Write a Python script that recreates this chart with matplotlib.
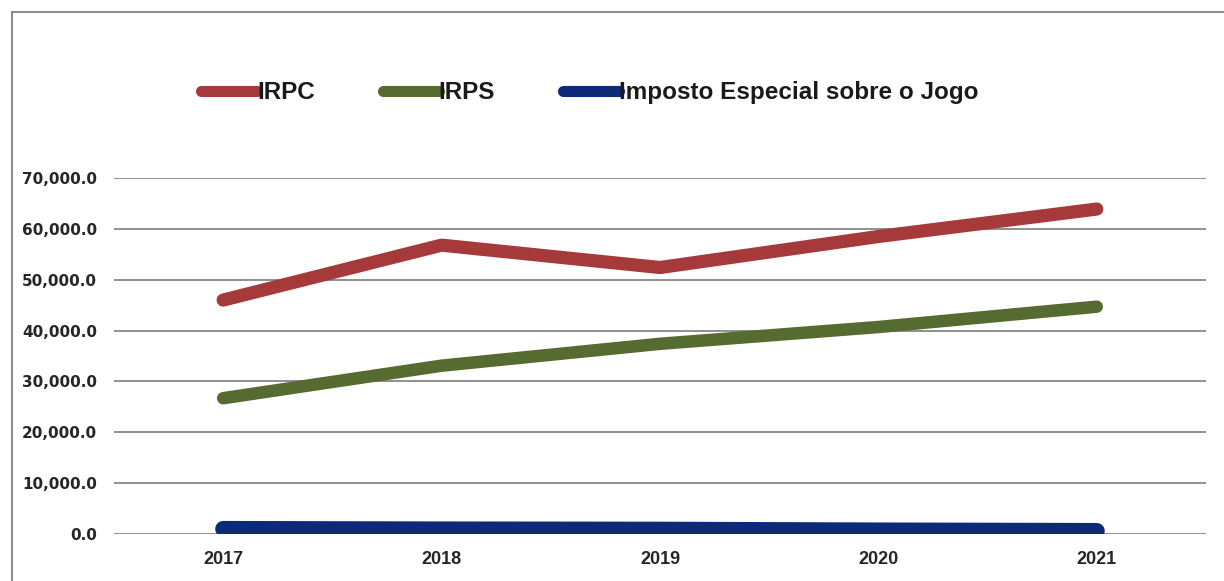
import matplotlib.pyplot as plt
from matplotlib.patches import Rectangle
from matplotlib.lines import Line2D
from matplotlib.ticker import FuncFormatter

years = ["2017", "2018", "2019", "2020", "2021"]
irpc = [46000, 56800, 52400, 58500, 63900]
irps = [26700, 33100, 37400, 40700, 44700]
jogo = [1000, 900, 850, 700, 600]

series_names = ["IRPC", "IRPS", "Imposto Especial sobre o Jogo"]
colors = ["#A63A3A", "#556B2F", "#0B2A78"]
label_font = ["Liberation Sans", "DejaVu Sans"]

fig = plt.figure(figsize=(12.24, 5.81), dpi=100)
ax = fig.add_axes([0.0931, 0.0809, 0.8922, 0.6127])

x = range(len(years))
ax.plot(x, irpc, color=colors[0], lw=9.5, solid_capstyle="round", solid_joinstyle="round", zorder=3)
ax.plot(x, irps, color=colors[1], lw=9, solid_capstyle="round", solid_joinstyle="round", zorder=3)
ax.plot(x, jogo, color=colors[2], lw=11.5, solid_capstyle="round", solid_joinstyle="round", zorder=3)

ax.set_xlim(-0.5, len(years) - 0.5)
ax.set_ylim(0, 70000)
ax.set_yticks(range(0, 70001, 10000))
ax.yaxis.set_major_formatter(FuncFormatter(lambda v, p: f"{v:,.1f}"))
ax.set_xticks(list(x))
ax.set_xticklabels(years)
ax.grid(axis="y", color="#8f8f8f", lw=1.4)
ax.set_axisbelow(True)
for s in ax.spines.values():
    s.set_visible(False)
ax.tick_params(length=0)
ax.tick_params(axis="y", pad=12)
ax.tick_params(axis="x", pad=12)
for t in ax.get_yticklabels():
    t.set_fontweight("bold")
    t.set_fontsize(11)
    t.set_color("#262626")
for t in ax.get_xticklabels():
    t.set_fontweight("bold")
    t.set_fontsize(13)
    t.set_family(label_font)
    t.set_color("#262626")

handles = [Line2D([0], [0], color=c, lw=8, solid_capstyle="round") for c in colors]
leg = fig.legend(handles, series_names, loc="center", bbox_to_anchor=(0.482, 0.84),
                 ncol=3, frameon=False, handlelength=2.3, handletextpad=0.0,
                 columnspacing=2.8,
                 prop={"family": label_font, "weight": "bold", "size": 17.5})
for t in leg.get_texts():
    t.set_color("#1a1a1a")

# chart area border (cropped on right and bottom)
fig.patches.append(Rectangle((12 / 1224, -0.1), 1.2, 1 - 12 / 581 + 0.1,
                             transform=fig.transFigure, fill=False,
                             edgecolor="#8c8c8c", lw=1.5))

fig.savefig("out.png", dpi=100)
